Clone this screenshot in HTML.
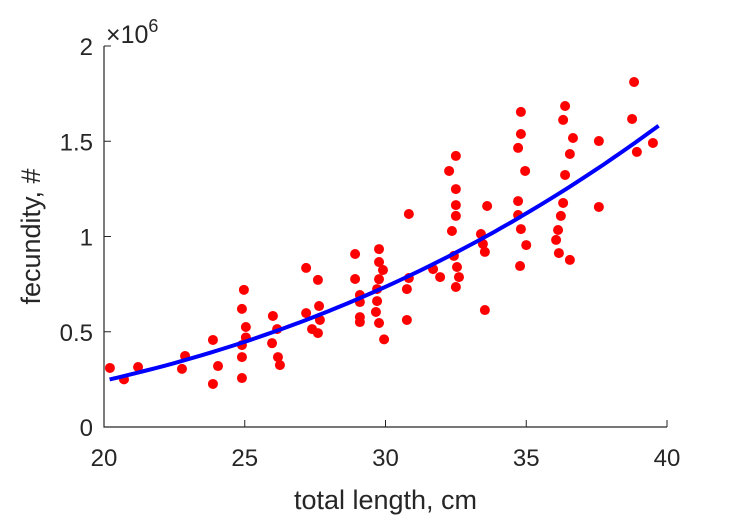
<!DOCTYPE html>
<html><head><meta charset="utf-8"><style>body{margin:0;background:#fff}svg{display:block;font-family:"Liberation Sans",sans-serif}</style></head>
<body>
<svg id="c" width="729" height="521"></svg>
<script>
const lengths=[20.21,20.71,21.21,22.77,22.88,23.87,23.87,24.05,24.97,24.90,25.04,25.04,24.90,24.90,24.90,26.00,26.15,25.97,26.18,26.25,27.18,27.60,27.18,27.64,27.67,27.39,27.60,28.92,28.92,29.09,29.09,29.09,29.09,29.77,29.77,29.91,29.77,29.70,29.70,29.66,29.77,29.95,30.83,30.83,30.76,30.76,31.69,31.94,32.50,32.26,32.50,32.50,32.50,32.36,32.43,32.54,32.61,32.50,33.61,33.39,33.46,33.53,33.53,34.81,34.81,34.71,34.96,34.71,34.71,34.81,35.0,34.78,36.38,36.31,36.66,36.55,36.38,36.31,36.23,36.13,36.06,36.16,36.55,37.58,37.58,38.83,38.76,39.50,38.93];
const fecundity=[0.31,0.25,0.315,0.305,0.373,0.457,0.226,0.32,0.72,0.62,0.525,0.47,0.43,0.367,0.257,0.583,0.514,0.44,0.367,0.325,0.835,0.772,0.598,0.635,0.562,0.514,0.493,0.908,0.777,0.693,0.656,0.577,0.551,0.934,0.866,0.824,0.776,0.724,0.661,0.604,0.546,0.46,1.118,0.782,0.724,0.562,0.829,0.787,1.423,1.344,1.249,1.165,1.108,1.029,0.898,0.84,0.787,0.735,1.16,1.013,0.961,0.919,0.614,1.654,1.538,1.465,1.344,1.186,1.113,1.039,0.955,0.845,1.685,1.612,1.517,1.433,1.323,1.176,1.108,1.034,0.982,0.913,0.877,1.501,1.155,1.811,1.617,1.491,1.444];
const fitA=[0.25],fitB=[2.73],fitRef=[20.2],fitRange=[20.2,39.7];
const xTicks=[20,25,30,35,40],yTicks=[0,0.5,1,1.5,2],yTickLabels=["0","0.5","1","1.5","2"];
const L=104,R=667,T=46,B=427;
const sx=v=>L+(v-20)/20*(R-L), sy=v=>B-v/2*(B-T);
const svg=document.getElementById('c'),NS='http://www.w3.org/2000/svg';
function mk(t,a,p){const e=document.createElementNS(NS,t);for(const k in a)e.setAttribute(k,a[k]);(p||svg).appendChild(e);return e;}
const ax=mk('g',{});


const axl=mk('path',{d:`M${L},${T}V${B}H${R}`,fill:'none',stroke:'#262626','stroke-width':1.2},ax);


xTicks.forEach(v=>{const x=sx(v);
 mk('line',{x1:x,x2:x,y1:B,y2:B-7,stroke:'#262626'},ax);
 const t=mk('text',{x:x,y:B+39,'text-anchor':'middle','font-size':24,fill:'#262626'},ax);t.textContent=v;
 
 });
yTicks.forEach((v,i)=>{const y=sy(v);
 mk('line',{x1:L,x2:L+7,y1:y,y2:y,stroke:'#262626'},ax);
 const t=mk('text',{x:L-11,y:y+9,'text-anchor':'end','font-size':24,fill:'#262626'},ax);t.textContent=yTickLabels[i];
 
 });
const ex=mk('text',{x:106,y:43,'font-size':25,fill:'#262626'});
ex.innerHTML='×10<tspan dy="-11" font-size="18">6</tspan>';


const xl=mk('text',{x:(L+R)/2,y:509,'text-anchor':'middle','font-size':27,fill:'#262626'});xl.textContent='total length, cm';


const yl=mk('text',{x:0,y:0,'text-anchor':'middle','font-size':27,fill:'#262626',transform:`translate(40,${(T+B)/2}) rotate(-90)`});yl.textContent='fecundity, #';


const pts=mk('g',{});


lengths.forEach((v,i)=>{const c=mk('circle',{cx:sx(v),cy:sy(fecundity[i]),r:5,fill:'#ff0000'},pts);
 
 });
let d='';for(let k=0;k<=60;k++){const v=fitRange[0]+(fitRange[1]-fitRange[0])*k/60;const f=fitA[0]*Math.pow(v/fitRef[0],fitB[0]);d+=(k?'L':'M')+sx(v).toFixed(1)+','+sy(f).toFixed(1);}
const fl=mk('path',{d:d,fill:'none',stroke:'#0000ff','stroke-width':4});


</script>
</body></html>
